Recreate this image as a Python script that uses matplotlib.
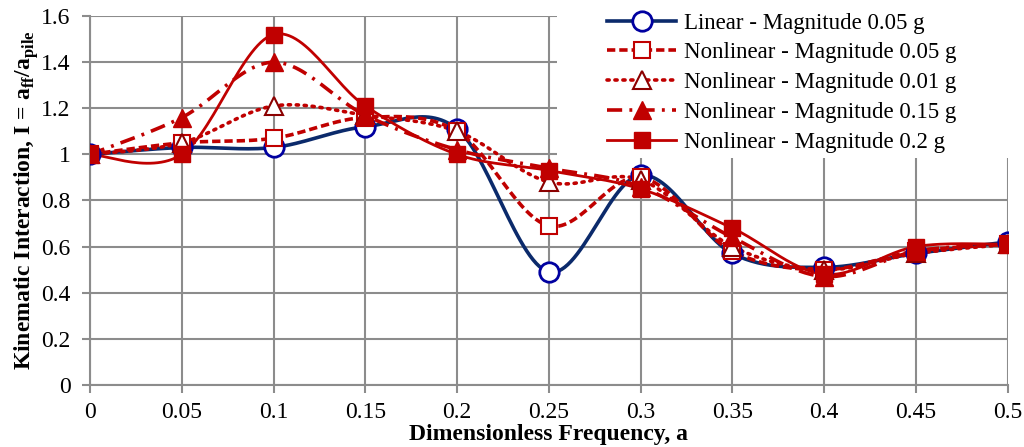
import numpy as np
import matplotlib
matplotlib.use("Agg")
import matplotlib.pyplot as plt
from matplotlib.patches import Rectangle

plt.rcParams['font.family'] = ['Liberation Serif', 'DejaVu Serif']
plt.rcParams['mathtext.fontset'] = 'custom'
plt.rcParams['mathtext.rm'] = 'Liberation Serif:bold'
plt.rcParams['mathtext.bf'] = 'Liberation Serif:bold'

freq = [0, 0.05, 0.1, 0.15, 0.2, 0.25, 0.3, 0.35, 0.4, 0.45, 0.5]
linear_005 = [1.00, 1.03, 1.03, 1.12, 1.11, 0.49, 0.91, 0.57, 0.51, 0.57, 0.62]
nonlin_005 = [1.00, 1.05, 1.07, 1.16, 1.10, 0.69, 0.90, 0.58, 0.50, 0.58, 0.61]
nonlin_001 = [1.00, 1.05, 1.21, 1.17, 1.10, 0.88, 0.89, 0.60, 0.50, 0.57, 0.61]
nonlin_015 = [1.00, 1.16, 1.40, 1.17, 1.02, 0.94, 0.86, 0.64, 0.47, 0.58, 0.61]
nonlin_020 = [1.00, 1.00, 1.52, 1.21, 1.00, 0.93, 0.85, 0.68, 0.48, 0.60, 0.61]

labels = ["Linear - Magnitude 0.05 g",
          "Nonlinear - Magnitude 0.05 g",
          "Nonlinear - Magnitude 0.01 g",
          "Nonlinear - Magnitude 0.15 g",
          "Nonlinear - Magnitude 0.2 g"]


def smooth(x, y, n=30):
    # Excel-like smoothed line (Catmull-Rom through the points)
    x = np.asarray(x, float)
    y = np.asarray(y, float)
    px = np.concatenate([[x[0]], x, [x[-1]]])
    py = np.concatenate([[y[0]], y, [y[-1]]])
    xs, ys = [], []
    t = np.linspace(0, 1, n)
    for i in range(1, len(px) - 2):
        p0 = np.array([px[i], py[i]])
        p3 = np.array([px[i + 1], py[i + 1]])
        c1 = p0 + (np.array([px[i + 1], py[i + 1]]) - np.array([px[i - 1], py[i - 1]])) / 6
        c2 = p3 - (np.array([px[i + 2], py[i + 2]]) - np.array([px[i], py[i]])) / 6
        b = ((1 - t) ** 3)[:, None] * p0 + (3 * (1 - t) ** 2 * t)[:, None] * c1 \
            + (3 * (1 - t) * t ** 2)[:, None] * c2 + (t ** 3)[:, None] * p3
        xs.extend(b[:, 0])
        ys.extend(b[:, 1])
    return xs, ys


red = '#C00000'
navy = '#0B2A6B'
series = [
    (linear_005, dict(color=navy, ls='-', lw=2.6), dict(marker='o', ms=14, mfc='white', mec='#0000A0', mew=2)),
    (nonlin_005, dict(color=red, ls=(0, (2.3, 1.1)), lw=2.6), dict(marker='s', ms=12, mfc='white', mec=red, mew=1.5)),
    (nonlin_001, dict(color=red, ls=(0, (0.6, 1.6)), lw=2.6, dash_capstyle='round'), dict(marker='^', ms=13, mfc='white', mec='#8B0000', mew=1.5)),
    (nonlin_015, dict(color=red, ls=(0, (4.2, 2.0, 0.8, 2.0)), lw=2.6), dict(marker='^', ms=13, mfc=red, mec=red, mew=1)),
    (nonlin_020, dict(color=red, ls='-', lw=2.0), dict(marker='s', ms=12, mfc=red, mec=red, mew=1)),
]

fig = plt.figure(figsize=(10.24, 4.47), dpi=100)
ax = fig.add_axes([0.088, 0.139, 0.896, 0.825])

for (vals, lstyle, mstyle), lab in zip(series, labels):
    sx, sy = smooth(freq, vals)
    ax.plot(sx, sy, zorder=3, **lstyle)
    ax.plot(freq, vals, ls='none', zorder=4, **mstyle)
    ax.plot([], [], label=lab, **lstyle, **mstyle)

ax.set_xlim(0, 0.5)
ax.set_ylim(0, 1.6)
ax.set_xticks(freq)
ax.set_xticklabels(['0', '0.05', '0.1', '0.15', '0.2', '0.25', '0.3', '0.35', '0.4', '0.45', '0.5'])
ax.set_yticks(np.arange(0, 1.61, 0.2))
ax.set_yticklabels(['0', '0.2', '0.4', '0.6', '0.8', '1', '1.2', '1.4', '1.6'])
ax.grid(True, color='#8C8C8C', lw=1.5)
ax.set_axisbelow(True)
for s in ['top', 'right']:
    ax.spines[s].set_visible(False)
for s in ['left', 'bottom']:
    ax.spines[s].set_color('#8C8C8C')
    ax.spines[s].set_linewidth(1.5)
ax.tick_params(axis='both', length=6, width=1.5, color='#8C8C8C', labelsize=17)
ax.tick_params(axis='y', pad=8)
ax.tick_params(axis='x', pad=6)

ax.set_xlabel('Dimensionless Frequency, a', fontsize=17, fontweight='bold', labelpad=1)
ax.set_ylabel(r'Kinematic Interaction, I = a$_{\mathbf{ff}}$/a$_{\mathbf{pile}}$',
              fontsize=17, fontweight='bold', labelpad=0)

# white area behind the legend hides the grid there
ax.add_patch(Rectangle((0.509, 0.615), 0.52, 0.41, transform=ax.transAxes,
                       facecolor='white', edgecolor='none', zorder=2, clip_on=False))

leg = ax.legend(loc='upper left', bbox_to_anchor=(602 / 1024, 1 - 8 / 447),
                bbox_transform=fig.transFigure, frameon=False, fontsize=16.5,
                handlelength=3.05, handletextpad=0.35, labelspacing=0.38,
                borderpad=0.2, borderaxespad=0)
leg.set_zorder(5)

fig.savefig('out.png', dpi=100)
